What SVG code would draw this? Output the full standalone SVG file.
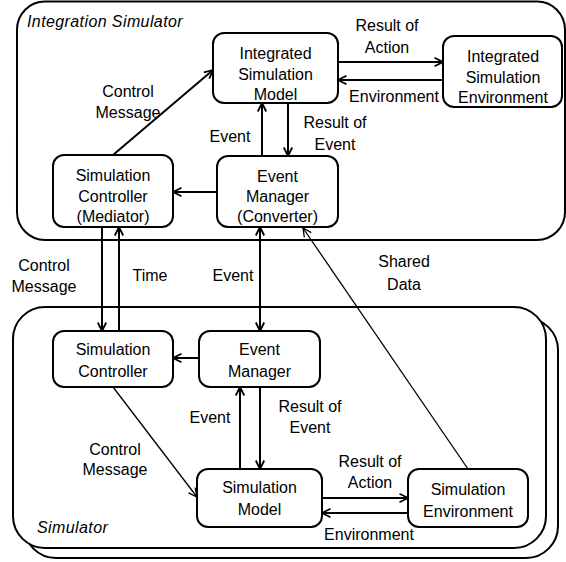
<svg xmlns="http://www.w3.org/2000/svg" width="566" height="562" viewBox="0 0 566 562">
  <style>
    text { font-family: "Liberation Sans", Arial, sans-serif; font-size: 16px; fill: #000; }
    .c { text-anchor: middle; }
    .it { font-style: italic; letter-spacing: 0.4px; }
    .frame { fill: #fff; stroke: #000; stroke-width: 2; }
    .node { fill: #fff; stroke: #000; stroke-width: 2; }
    .link { fill: none; stroke: #000; stroke-width: 2; }
    .thin { fill: none; stroke: #000; stroke-width: 1.3; }
  </style>
  <defs>
    <marker id="arr" viewBox="0 0 10 10" refX="9.5" refY="5" markerWidth="10" markerHeight="10" markerUnits="userSpaceOnUse" orient="auto-start-reverse">
      <path d="M1,0.8 L9.5,5 L1,9.2" fill="none" stroke="#000" stroke-width="1.8"/>
    </marker>
    <marker id="arrThin" viewBox="0 0 10 10" refX="9.5" refY="5" markerWidth="10" markerHeight="10" markerUnits="userSpaceOnUse" orient="auto">
      <path d="M1,0.8 L9.5,5 L1,9.2" fill="none" stroke="#000" stroke-width="1.3"/>
    </marker>
  </defs>

  <!-- Integration Simulator frame -->
  <g id="integration-simulator">
    <rect class="frame" x="17" y="1.5" width="548" height="238.5" rx="28"/>
    <text class="it" x="27" y="27">Integration Simulator</text>
  </g>

  <!-- Simulator frame (stacked) -->
  <g id="simulator">
    <rect class="frame" x="24" y="318" width="534" height="240" rx="32"/>
    <rect class="frame" x="13" y="307" width="533" height="241" rx="32"/>
    <text class="it" x="37" y="533">Simulator</text>
  </g>

  <!-- upper nodes -->
  <g id="integrated-simulation-model">
    <rect class="node" x="213" y="33" width="125" height="70" rx="11"/>
    <text class="c" x="275.5" y="59">Integrated</text>
    <text class="c" x="275.5" y="80">Simulation</text>
    <text class="c" x="275.5" y="100">Model</text>
  </g>
  <g id="integrated-simulation-environment">
    <rect class="node" x="443" y="36" width="119" height="71" rx="11"/>
    <text class="c" x="503" y="62">Integrated</text>
    <text class="c" x="503" y="83">Simulation</text>
    <text class="c" x="503" y="103">Environment</text>
  </g>
  <g id="simulation-controller-mediator">
    <rect class="node" x="53" y="155" width="120" height="72" rx="11"/>
    <text class="c" x="113" y="181">Simulation</text>
    <text class="c" x="113" y="202">Controller</text>
    <text class="c" x="113" y="222">(Mediator)</text>
  </g>
  <g id="event-manager-converter">
    <rect class="node" x="217" y="156" width="121" height="71" rx="11"/>
    <text class="c" x="277.5" y="182">Event</text>
    <text class="c" x="277.5" y="202">Manager</text>
    <text class="c" x="277.5" y="222">(Converter)</text>
  </g>

  <!-- lower nodes -->
  <g id="simulation-controller">
    <rect class="node" x="53" y="331" width="120" height="56" rx="11"/>
    <text class="c" x="113" y="355">Simulation</text>
    <text class="c" x="113" y="377">Controller</text>
  </g>
  <g id="event-manager">
    <rect class="node" x="199" y="331" width="121" height="56" rx="11"/>
    <text class="c" x="259.5" y="355">Event</text>
    <text class="c" x="259.5" y="377">Manager</text>
  </g>
  <g id="simulation-model">
    <rect class="node" x="197" y="469" width="125" height="58" rx="11"/>
    <text class="c" x="259.5" y="493">Simulation</text>
    <text class="c" x="259.5" y="515">Model</text>
  </g>
  <g id="simulation-environment">
    <rect class="node" x="408" y="469" width="120" height="58" rx="11"/>
    <text class="c" x="468" y="495">Simulation</text>
    <text class="c" x="468" y="517">Environment</text>
  </g>

  <!-- connectors -->
  <g id="connectors">
    <line class="link" x1="113" y1="155" x2="213" y2="70" marker-end="url(#arr)"/>
    <line class="link" x1="262" y1="156" x2="262" y2="103" marker-end="url(#arr)"/>
    <line class="link" x1="288" y1="103" x2="288" y2="156" marker-end="url(#arr)"/>
    <line class="link" x1="217" y1="192" x2="173" y2="192" marker-end="url(#arr)"/>
    <line class="link" x1="338" y1="62" x2="443" y2="62" marker-end="url(#arr)"/>
    <line class="link" x1="443" y1="80" x2="338" y2="80" marker-end="url(#arr)"/>

    <line class="link" x1="102" y1="227" x2="102" y2="331" marker-end="url(#arr)"/>
    <line class="link" x1="119" y1="331" x2="119" y2="227" marker-end="url(#arr)"/>
    <line class="link" x1="260" y1="227" x2="260" y2="331" marker-start="url(#arr)" marker-end="url(#arr)"/>
    <line class="thin" x1="468" y1="469" x2="303" y2="228" marker-end="url(#arrThin)"/>

    <line class="link" x1="199" y1="358" x2="173" y2="358" marker-end="url(#arr)"/>
    <line class="link" x1="240" y1="469" x2="240" y2="387" marker-end="url(#arr)"/>
    <line class="link" x1="260" y1="387" x2="260" y2="469" marker-end="url(#arr)"/>
    <line class="thin" x1="113" y1="387" x2="197" y2="497" stroke-width="1" marker-end="url(#arrThin)"/>
    <line class="link" x1="322" y1="498" x2="408" y2="498" marker-end="url(#arr)"/>
    <line class="link" x1="408" y1="513" x2="322" y2="513" marker-end="url(#arr)"/>
  </g>

  <!-- connector labels -->
  <g id="labels">
    <text class="c" x="128" y="97">Control</text>
    <text class="c" x="128" y="118">Message</text>
    <text class="c" x="230" y="142">Event</text>
    <text class="c" x="335" y="128">Result of</text>
    <text class="c" x="335" y="150">Event</text>
    <text class="c" x="387" y="31">Result of</text>
    <text class="c" x="387" y="53">Action</text>
    <text class="c" x="394" y="102">Environment</text>

    <text class="c" x="44" y="271">Control</text>
    <text class="c" x="44" y="292">Message</text>
    <text class="c" x="150" y="281">Time</text>
    <text class="c" x="233" y="281">Event</text>
    <text class="c" x="404" y="267">Shared</text>
    <text class="c" x="404" y="290">Data</text>

    <text class="c" x="210" y="423">Event</text>
    <text class="c" x="310" y="412">Result of</text>
    <text class="c" x="310" y="433">Event</text>
    <text class="c" x="115" y="455">Control</text>
    <text class="c" x="115" y="475">Message</text>
    <text class="c" x="370" y="467">Result of</text>
    <text class="c" x="370" y="488">Action</text>
    <text class="c" x="369" y="540">Environment</text>
  </g>
</svg>
